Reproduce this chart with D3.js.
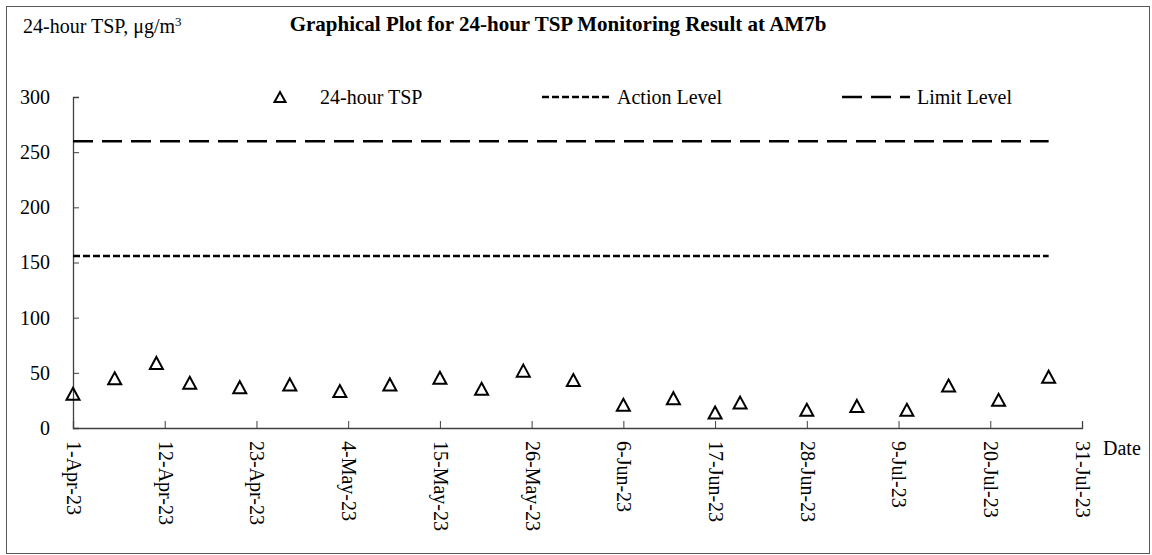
<!DOCTYPE html>
<html>
<head>
<meta charset="utf-8">
<script src="https://cdn.jsdelivr.net/npm/d3@7"></script>
<style>
  body { margin: 0; background: #fff; }
  svg { display: block; font-family: "Liberation Serif", "Times New Roman", serif; }
</style>
</head>
<body>
<div id="chart"></div>
<script>
// sampling dates and 24-hour TSP results (ug/m3)
const sampleDates = ["2023-04-01", "2023-04-06", "2023-04-11", "2023-04-15", "2023-04-21", "2023-04-27",
  "2023-05-03", "2023-05-09", "2023-05-15", "2023-05-20", "2023-05-25", "2023-05-31",
  "2023-06-06", "2023-06-12", "2023-06-17", "2023-06-20", "2023-06-28",
  "2023-07-04", "2023-07-10", "2023-07-15", "2023-07-21", "2023-07-27"];
const tspValues = [31, 45, 59, 41, 37, 39.5, 33.5, 39.5, 45.5, 35.5, 52, 43.5,
  21, 27, 14, 23, 16.5, 20, 16.5, 38.5, 25.5, 46.5];
const actionLevel = 156;
const limitLevel = 260;
const yTicks = [0, 50, 100, 150, 200, 250, 300];
const xTickLabels = ["1-Apr-23", "12-Apr-23", "23-Apr-23", "4-May-23", "15-May-23", "26-May-23",
  "6-Jun-23", "17-Jun-23", "28-Jun-23", "9-Jul-23", "20-Jul-23", "31-Jul-23"];

const width = 1152, height = 555;
const margin = { left: 73, right: 70, top: 97, bottom: 127 };

const parseDate = d3.timeParse("%Y-%m-%d");
const parseTick = d3.timeParse("%d-%b-%y");
const data = sampleDates.map((d, i) => ({ date: parseDate(d), value: tspValues[i] }));
const tickDates = xTickLabels.map(s => parseTick(s));

const svg = d3.select("#chart").append("svg")
  .attr("width", width).attr("height", height);

// outer frame
svg.append("rect")
  .attr("x", 6.5).attr("y", 6.5)
  .attr("width", 1143).attr("height", 547)
  .attr("fill", "none").attr("stroke", "#595959").attr("stroke-width", 1);

const x = d3.scaleTime()
  .domain([tickDates[0], tickDates[tickDates.length - 1]])
  .range([margin.left, width - margin.right]);
const y = d3.scaleLinear()
  .domain([0, 300])
  .range([height - margin.bottom, margin.top]);

// y axis, ticks inside
const yAxis = svg.append("g")
  .attr("transform", `translate(${margin.left},0)`)
  .call(d3.axisLeft(y).tickValues(yTicks).tickSize(-6).tickPadding(23).tickFormat(d3.format("d")))
  .attr("font-family", null).attr("font-size", 20);
yAxis.select(".domain").attr("stroke", "#404040").attr("stroke-width", 1.3);
yAxis.selectAll(".tick line").attr("stroke", "#404040");
yAxis.selectAll("text").attr("fill", "#000");

// x axis, ticks inside, rotated labels
const xAxis = svg.append("g")
  .attr("transform", `translate(0,${y(0)})`)
  .call(d3.axisBottom(x).tickValues(tickDates).tickSize(-7).tickFormat((d, i) => xTickLabels[i]))
  .attr("font-family", null).attr("font-size", 20);
xAxis.select(".domain").attr("stroke", "#404040").attr("stroke-width", 1.3);
xAxis.selectAll(".tick line").attr("stroke", "#404040");
xAxis.selectAll("text")
  .attr("fill", "#000")
  .attr("transform", "rotate(90)")
  .attr("x", 13).attr("y", 0).attr("dy", "0.33em")
  .attr("text-anchor", "start");

// level lines across the monitoring period
const [firstDate, lastDate] = d3.extent(data, d => d.date);
svg.append("line")
  .attr("x1", x(firstDate)).attr("x2", x(lastDate))
  .attr("y1", y(limitLevel)).attr("y2", y(limitLevel))
  .attr("stroke", "#000").attr("stroke-width", 2.5).attr("stroke-dasharray", "20,9");
svg.append("line")
  .attr("x1", x(firstDate)).attr("x2", x(lastDate))
  .attr("y1", y(actionLevel)).attr("y2", y(actionLevel))
  .attr("stroke", "#000").attr("stroke-width", 2.5).attr("stroke-dasharray", "7,3");

// triangle marker, centred on its box
function triangle(w, h) {
  return `M0,${-h / 2}L${w / 2},${h / 2}L${-w / 2},${h / 2}Z`;
}

svg.append("g").selectAll("path")
  .data(data)
  .join("path")
  .attr("transform", d => `translate(${x(d.date)},${y(d.value)})`)
  .attr("d", triangle(13, 12))
  .attr("fill", "none").attr("stroke", "#000").attr("stroke-width", 2)
  .attr("stroke-linejoin", "miter");

// title + axis titles
svg.append("text")
  .attr("x", 558).attr("y", 31)
  .attr("text-anchor", "middle")
  .attr("font-size", 21).attr("font-weight", "bold")
  .text("Graphical Plot for 24-hour TSP Monitoring Result at AM7b");

const yTitle = svg.append("text")
  .attr("x", 23).attr("y", 33)
  .attr("font-size", 20);
yTitle.append("tspan").text("24-hour TSP, \u03bcg/m");
yTitle.append("tspan").attr("font-size", 13).attr("dy", -7).text("3");

svg.append("text")
  .attr("x", 1103).attr("y", y(0) + 20)
  .attr("dy", "0.33em")
  .attr("font-size", 20)
  .text("Date");

// legend
const legendY = 97;
const legend = svg.append("g").attr("font-size", 20);
legend.append("path")
  .attr("transform", `translate(280,${legendY})`)
  .attr("d", triangle(11, 10))
  .attr("fill", "none").attr("stroke", "#000").attr("stroke-width", 2);
legend.append("text").attr("x", 320).attr("y", legendY).attr("dy", "0.33em").text("24-hour TSP");

legend.append("line")
  .attr("x1", 542).attr("x2", 610).attr("y1", legendY).attr("y2", legendY)
  .attr("stroke", "#000").attr("stroke-width", 2.5).attr("stroke-dasharray", "7,3");
legend.append("text").attr("x", 617).attr("y", legendY).attr("dy", "0.33em").text("Action Level");

legend.append("line")
  .attr("x1", 842).attr("x2", 910).attr("y1", legendY).attr("y2", legendY)
  .attr("stroke", "#000").attr("stroke-width", 2.5).attr("stroke-dasharray", "20,9");
legend.append("text").attr("x", 917).attr("y", legendY).attr("dy", "0.33em").text("Limit Level");
</script>
</body>
</html>
